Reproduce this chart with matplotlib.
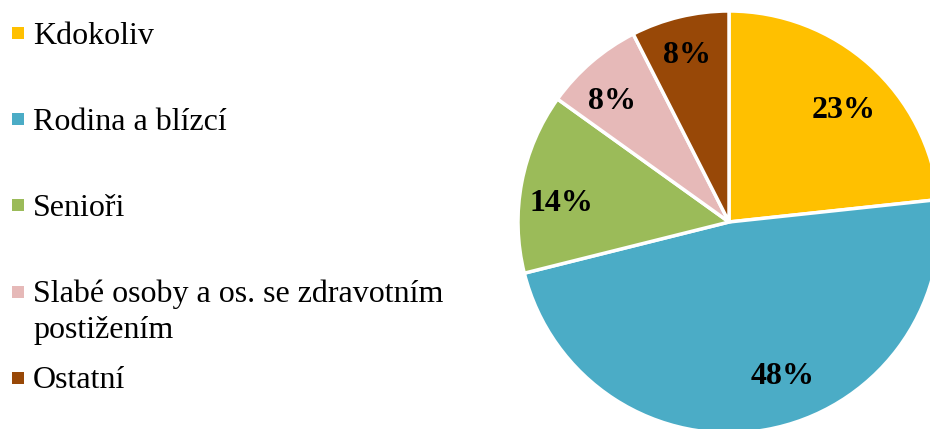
import numpy as np
import matplotlib.pyplot as plt

plt.rcParams['font.family'] = ['Liberation Serif', 'DejaVu Serif']

kategorie = ['Kdokoliv', 'Rodina a blízcí', 'Senioři',
             'Slabé osoby a os. se zdravotním\npostižením', 'Ostatní']
podil = [23.3, 47.8, 13.8, 7.6, 7.5]
popisky = ['23%', '48%', '14%', '8%', '8%']
barvy = ['#FFC000', '#4BACC6', '#9BBB59', '#E6B9B8', '#984807']

# where each label sits (fraction of radius, angle shift from wedge middle)
lbl_dist = [0.77, 0.76, 0.80, 0.81, 0.83]
lbl_shift = [-3, 9.6, 3.3, 2.6, 0.4]

W, H = 930, 429
fig = plt.figure(figsize=(W / 100, H / 100), dpi=100)

# pie axes, centre at (729, 222) px, radius ~211 px (runs off the figure edge)
cx, cy, r = 729, 222, 211
ax = fig.add_axes([(cx - r) / W, (H - cy - r) / H, 2 * r / W, 2 * r / H])
wedges, _ = ax.pie(podil, colors=barvy, startangle=90, counterclock=False,
                   wedgeprops=dict(edgecolor='white', linewidth=2.5))
for w, txt, d, s in zip(wedges, popisky, lbl_dist, lbl_shift):
    ang = np.deg2rad((w.theta1 + w.theta2) / 2 + s)
    ax.text(d * np.cos(ang), d * np.sin(ang) - 0.018, txt, ha='center', va='center',
            fontsize=23, fontweight='bold')
ax.set_xlim(-1, 1)
ax.set_ylim(-1, 1)
ax.set_aspect('equal')
ax.axis('off')

# legend drawn in pixel coordinates
lax = fig.add_axes([0, 0, 1, 1])
lax.set_xlim(0, W)
lax.set_ylim(H, 0)
lax.axis('off')
lax.set_zorder(-1)
for i, (nazev, b) in enumerate(zip(kategorie, barvy)):
    yb = 43.5 + i * 86.2
    lax.scatter(17.5, yb - 10.5, marker='s', s=75, color=b, linewidths=0)
    for j, radek in enumerate(nazev.split('\n')):
        lax.text(33, yb + j * 36, radek, fontsize=23, va='baseline', ha='left')

fig.savefig('out.png', dpi=100)
